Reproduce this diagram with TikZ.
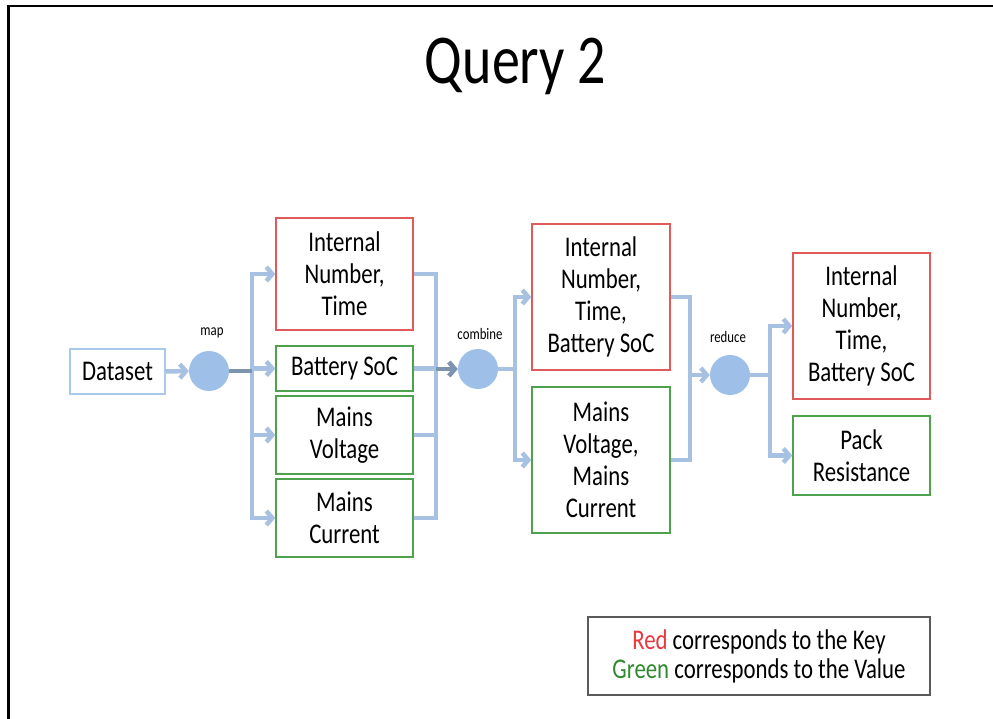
\documentclass[tikz,border=0pt]{standalone}
\usepackage{fontspec}
\setmainfont{Carlito}[FakeStretch=0.8]
\usetikzlibrary{arrows.meta}
\definecolor{conn}{HTML}{A7C1E2}
\definecolor{conndark}{HTML}{7D93AE}
\definecolor{circ}{HTML}{9DBFE8}
\definecolor{dsblue}{HTML}{A9C8EA}
\definecolor{keyred}{HTML}{E05A5A}
\definecolor{valgreen}{HTML}{4EA24E}
\definecolor{txtred}{HTML}{E8383D}
\definecolor{txtgreen}{HTML}{2F8A2F}
\definecolor{legendgray}{HTML}{5A5A5A}
\begin{document}
\begin{tikzpicture}[x=1pt,y=-1pt,
  >={Straight Barb[length=6pt,width=14pt]},
  box/.style={draw, line width=1.5pt, align=center, inner sep=0pt,
    font=\fontsize{28.5}{32}\selectfont, text=black},
  keybox/.style={box, draw=keyred, minimum width=137pt},
  valbox/.style={box, draw=valgreen, minimum width=137pt},
  opnode/.style={circle, fill=circ, minimum size=40pt, inner sep=0pt},
  oplabel/.style={font=\fontsize{16}{18}\selectfont, inner sep=0pt},
  link/.style={draw=conn, line width=4.5pt, line join=miter},
  darklink/.style={draw=conndark, line width=4.5pt},
]
\useasboundingbox (0,0) rectangle (993,719);
\draw[line width=2.5pt] (8.5,719) -- (8.5,6) -- (993,6);

\node[anchor=base, inner sep=0pt, font=\fontsize{70}{74}\selectfont] (title) at (515.5,84) {Query 2};

% nodes
\node[box, draw=dsblue, minimum width=95pt, minimum height=45pt] (ds) at (117.5,371.5) {Dataset};
\node[opnode] (map) at (209,371) {};
\node[oplabel] (maplbl) at (212,333) {map};

\node[keybox, minimum height=112pt] (k1) at (344.5,274) {Internal\\Number,\\Time};
\node[valbox, minimum height=45pt] (v1) at (344.5,368.5) {Battery SoC};
\node[valbox, minimum height=78pt] (v2) at (344.5,435) {Mains\\Voltage};
\node[valbox, minimum height=78pt] (v3) at (344.5,518) {Mains\\Current};

\node[opnode] (comb) at (478,369) {};
\node[oplabel] (comblbl) at (480,334) {combine};

\node[keybox, minimum width=138pt, minimum height=146pt] (k2) at (601,297) {Internal\\Number,\\Time,\\Battery SoC};
\node[valbox, minimum width=138pt, minimum height=146pt] (v4) at (601,460) {Mains\\Voltage,\\Mains\\Current};

\node[opnode] (red) at (730,375) {};
\node[oplabel] (redlbl) at (728,337) {reduce};

\node[keybox, minimum height=146pt] (k3) at (861.5,326) {Internal\\Number,\\Time,\\Battery SoC};
\node[valbox, minimum height=79pt] (v5) at (861.5,455.5) {Pack\\Resistance};

\node[box, draw=legendgray, minimum width=342pt, minimum height=78pt, font=\fontsize{28.5}{29}\selectfont] (legend) at (759,656)
  {\textcolor{txtred}{Red} corresponds to the Key\\\textcolor{txtgreen}{Green} corresponds to the Value};

% bus coordinates
\coordinate (mapbus) at (252,0);
\coordinate (cbus) at (436,0);
\coordinate (mbus) at (515,0);
\coordinate (rbus) at (690,0);
\coordinate (obus) at (770,0);

% connectors: map stage
\draw[link, ->] (ds.east) -- (map.west);
\draw[link, <->] (k1.west) -- (k1.west -| mapbus) -- (v3.west -| mapbus) -- (v3.west);
\draw[link, ->] (v1.west -| mapbus) -- (v1.west);
\draw[link, ->] (v2.west -| mapbus) -- (v2.west);
\draw[darklink] (map.east) -- (map.east -| mapbus);

% combine stage
\draw[link] (k1.east) -- (k1.east -| cbus) -- (v3.east -| cbus) -- (v3.east);
\draw[link] (v1.east) -- (v1.east -| cbus);
\draw[link] (v2.east) -- (v2.east -| cbus);
\draw[darklink, ->] (comb.west -| cbus) -- (comb.west);
\draw[link] (comb.east) -- (comb.east -| mbus);
\draw[link, <->] (k2.west) -- (k2.west -| mbus) -- (v4.west -| mbus) -- (v4.west);

% reduce stage
\draw[link] (k2.east) -- (k2.east -| rbus) -- (v4.east -| rbus) -- (v4.east);
\draw[link, ->] (red.west -| rbus) -- (red.west);
\draw[link] (red.east) -- (red.east -| obus);
\draw[link, <->] (k3.west) -- (k3.west -| obus) -- (v5.west -| obus) -- (v5.west);
\end{tikzpicture}
\end{document}
